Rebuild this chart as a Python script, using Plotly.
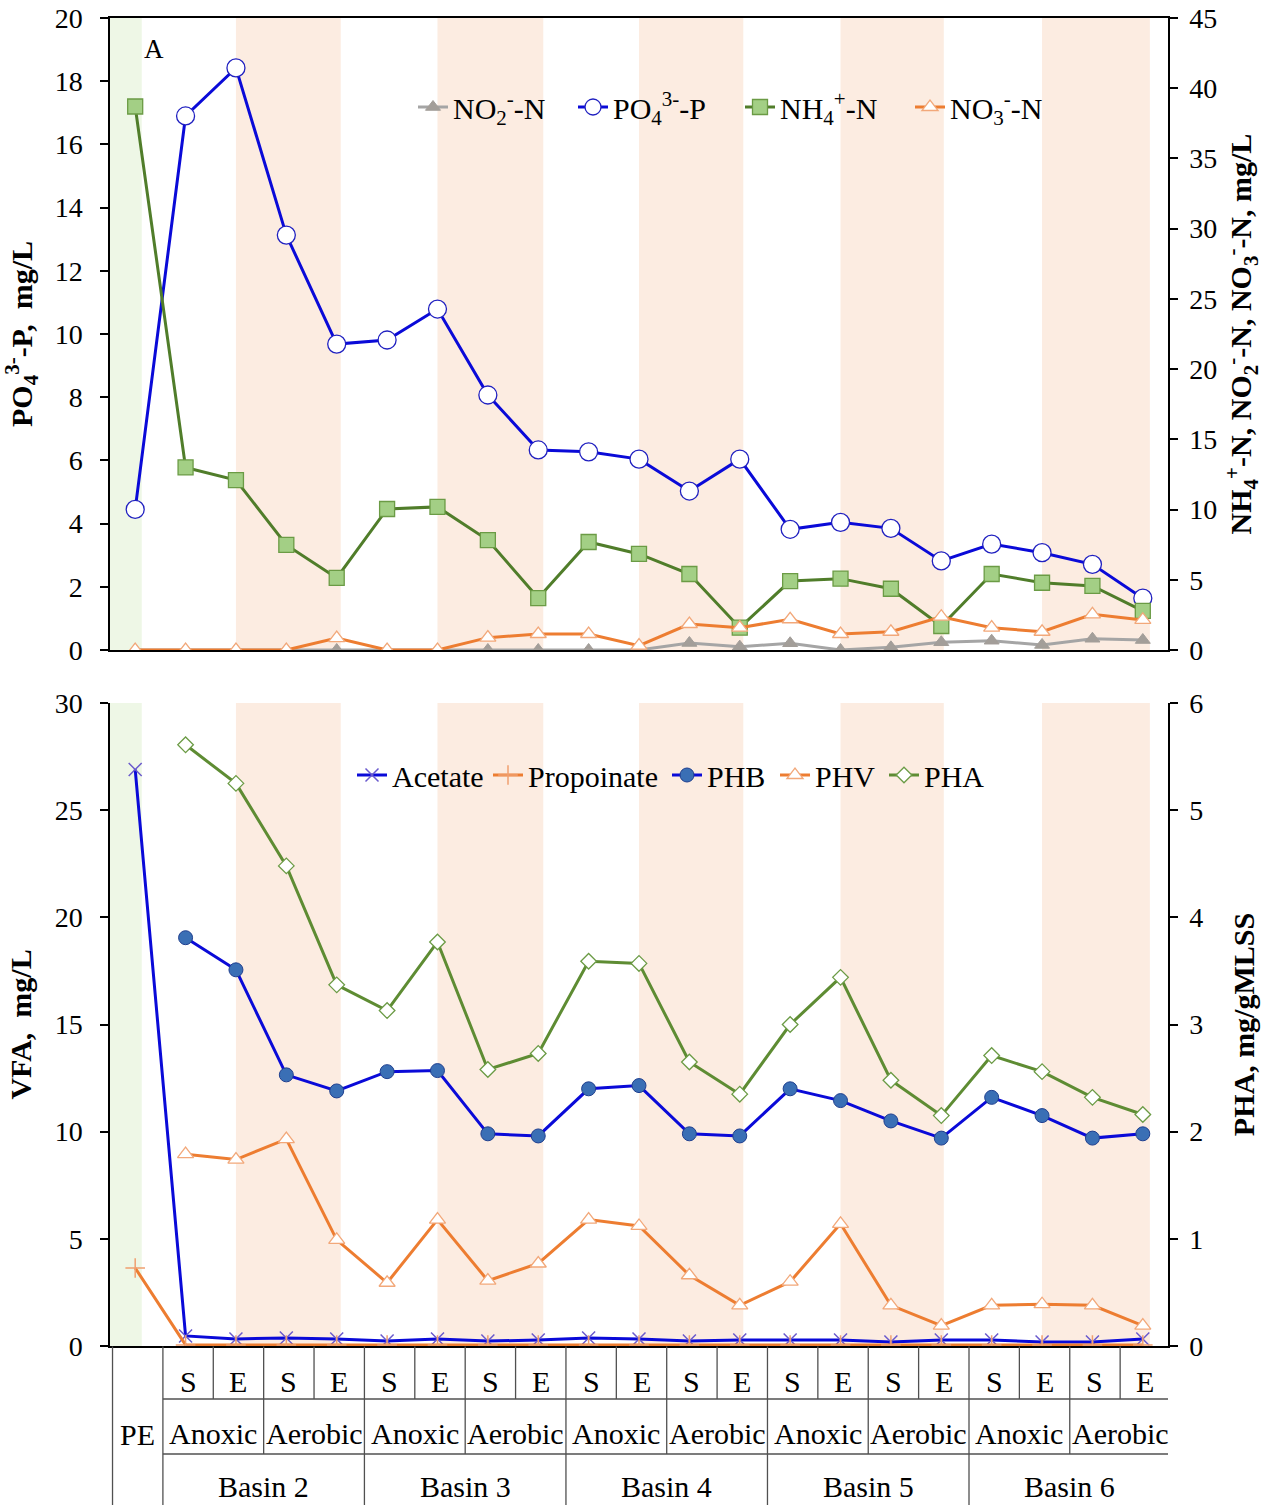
import plotly.graph_objects as go

W, H = 1276, 1505
FONT = "Liberation Serif"

# ---------------- data ----------------
x_idx = list(range(21))
steps = ["PE", "S", "E", "S", "E", "S", "E", "S", "E", "S", "E",
         "S", "E", "S", "E", "S", "E", "S", "E", "S", "E"]
zones = ["Anoxic", "Aerobic"] * 5
basins = ["Basin 2", "Basin 3", "Basin 4", "Basin 5", "Basin 6"]

# top panel
po4 = [4.45, 16.9, 18.42, 13.13, 9.68, 9.81, 10.79, 8.07, 6.33, 6.27, 6.04,
       5.03, 6.04, 3.82, 4.04, 3.85, 2.82, 3.35, 3.08, 2.71, 1.64]
nh4 = [38.7, 13.0, 12.1, 7.48, 5.13, 10.04, 10.19, 7.83, 3.70, 7.69, 6.84,
       5.41, 1.59, 4.91, 5.08, 4.36, 1.71, 5.41, 4.79, 4.56, 2.78]
no3 = [0, 0, 0, 0, 0.85, 0, 0, 0.88, 1.14, 1.14, 0.31,
       1.85, 1.59, 2.19, 1.14, 1.30, 2.37, 1.59, 1.30, 2.54, 2.14]
no2 = [0, 0, 0, 0, 0, 0, 0, 0, 0, 0, 0,
       0.50, 0.24, 0.48, 0, 0.19, 0.55, 0.66, 0.36, 0.80, 0.71]

# bottom panel
acetate = [26.9, 0.47, 0.33, 0.37, 0.33, 0.23, 0.33, 0.23, 0.28, 0.37, 0.33,
           0.23, 0.28, 0.28, 0.28, 0.19, 0.28, 0.28, 0.19, 0.19, 0.33]
propionate = [3.64, 0.05, 0.05, 0.05, 0.05, 0.05, 0.05, 0.05, 0.05, 0.05, 0.05,
              0.05, 0.05, 0.05, 0.05, 0.05, 0.05, 0.05, 0.05, 0.05, 0.05]
phb = [None, 3.81, 3.51, 2.53, 2.38, 2.56, 2.57, 1.98, 1.96, 2.40, 2.43,
       1.98, 1.96, 2.40, 2.29, 2.10, 1.94, 2.32, 2.15, 1.94, 1.98]
phv = [None, 1.79, 1.74, 1.93, 0.99, 0.59, 1.18, 0.61, 0.77, 1.18, 1.12,
       0.66, 0.38, 0.60, 1.14, 0.38, 0.19, 0.38, 0.39, 0.38, 0.19]
pha = [None, 5.61, 5.25, 4.48, 3.37, 3.13, 3.77, 2.58, 2.73, 3.59, 3.57,
       2.65, 2.35, 3.00, 3.44, 2.48, 2.15, 2.71, 2.56, 2.32, 2.16]

# aerobic band start/end (category index units)
band_start = [2, 6, 10, 14, 18]
band_end = [4.08, 8.1, 12.07, 16.05, 20.14]

BLUE = "#0a0ad8"
GREEN = "#507d2a"
ORANGE = "#ed7d31"
GRAY = "#a5a5a5"

fig = go.Figure()

# ---- top traces ----
fig.add_trace(go.Scatter(x=x_idx, y=no2, name="NO<sub>2</sub><sup>-</sup>-N", mode="lines+markers",
                         line=dict(color=GRAY, width=3),
                         marker=dict(symbol="triangle-up", size=13, color="#a39e99",
                                     line=dict(color="#a39e99", width=1)),
                         xaxis="x", yaxis="y2", legend="legend", legendwidth=115))
fig.add_trace(go.Scatter(x=x_idx, y=po4, name="PO<sub>4</sub><sup>3-</sup>-P", mode="lines+markers",
                         line=dict(color=BLUE, width=3),
                         marker=dict(symbol="circle", size=18, color="white",
                                     line=dict(color="#2020c0", width=1.3)),
                         xaxis="x", yaxis="y", legend="legend", legendwidth=122))
fig.add_trace(go.Scatter(x=x_idx, y=nh4, name="NH<sub>4</sub><sup>+</sup>-N", mode="lines+markers",
                         line=dict(color=GREEN, width=3),
                         marker=dict(symbol="square", size=15, color="#a3cf85",
                                     line=dict(color="#6b9b45", width=1.3)),
                         xaxis="x", yaxis="y2", legend="legend", legendwidth=125))
fig.add_trace(go.Scatter(x=x_idx, y=no3, name="NO<sub>3</sub><sup>-</sup>-N", mode="lines+markers",
                         line=dict(color=ORANGE, width=3),
                         marker=dict(symbol="triangle-up", size=14, color="white",
                                     line=dict(color="#f2a87a", width=1.3)),
                         xaxis="x", yaxis="y2", legend="legend"))

# ---- bottom traces ----
fig.add_trace(go.Scatter(x=x_idx, y=acetate, name="Acetate", mode="lines+markers",
                         line=dict(color=BLUE, width=3),
                         marker=dict(symbol="x-thin", size=13, color="#6a5acd",
                                     line=dict(color="#6a5acd", width=1.5)),
                         xaxis="x2", yaxis="y3", legend="legend2", legendwidth=91))
fig.add_trace(go.Scatter(x=x_idx, y=propionate, name="Propoinate", mode="lines+markers",
                         line=dict(color=ORANGE, width=3),
                         marker=dict(symbol="cross-thin", size=14, color="#f0a070",
                                     line=dict(color="#f0a070", width=1.5)),
                         xaxis="x2", yaxis="y3", legend="legend2", legendwidth=134))
fig.add_trace(go.Scatter(x=x_idx, y=phb, name="PHB", mode="lines+markers",
                         line=dict(color=BLUE, width=3),
                         marker=dict(symbol="circle", size=14, color="#3a6fb5",
                                     line=dict(color="#1f3f8f", width=1)),
                         xaxis="x2", yaxis="y4", legend="legend2", legendwidth=63))
fig.add_trace(go.Scatter(x=x_idx, y=phv, name="PHV", mode="lines+markers",
                         line=dict(color=ORANGE, width=3),
                         marker=dict(symbol="triangle-up", size=14, color="white",
                                     line=dict(color="#f2a87a", width=1.3)),
                         xaxis="x2", yaxis="y4", legend="legend2", legendwidth=64))
fig.add_trace(go.Scatter(x=x_idx, y=pha, name="PHA", mode="lines+markers",
                         line=dict(color="#5e8c33", width=3),
                         marker=dict(symbol="diamond", size=12, color="white",
                                     line=dict(color="#6b9b45", width=1.3)),
                         xaxis="x2", yaxis="y4", legend="legend2"))

shapes = []
# background bands
for xr, yr in (("x", "y domain"), ("x2", "y3 domain")):
    shapes.append(dict(type="rect", xref=xr, yref=yr, x0=-0.5, x1=0.13, y0=0, y1=1,
                       fillcolor="#eef7e6", line=dict(width=0), layer="below"))
    for s, e in zip(band_start, band_end):
        shapes.append(dict(type="rect", xref=xr, yref=yr, x0=s, x1=e, y0=0, y1=1,
                           fillcolor="#fcece1", line=dict(width=0), layer="below"))

# table
def py(p):
    return 1 - p / H

t_top, r1, r2, t_bot = 1346.5, 1399, 1454, 1508
off = 0.55
LC = dict(color="#505050", width=1.3)
for xv in [-0.45, off] + [4 * k + off for k in range(1, 6)]:
    shapes.append(dict(type="line", xref="x2", yref="paper", x0=xv, x1=xv,
                       y0=py(t_top), y1=py(t_bot), line=LC))
for k in range(5):
    xv = 4 * k + 2 + off
    shapes.append(dict(type="line", xref="x2", yref="paper", x0=xv, x1=xv,
                       y0=py(t_top), y1=py(r2), line=LC))
for k in range(10):
    xv = 2 * k + 1 + off
    shapes.append(dict(type="line", xref="x2", yref="paper", x0=xv, x1=xv,
                       y0=py(t_top), y1=py(r1), line=LC))
for yv in (r1, r2):
    shapes.append(dict(type="line", xref="x2", yref="paper", x0=off, x1=20 + off,
                       y0=py(yv), y1=py(yv), line=LC))

annotations = []
TF = dict(family=FONT, size=30, color="black")
for i in range(1, 21):
    annotations.append(dict(x=i + 0.05, y=py(1381), xref="x2", yref="paper", text=steps[i],
                            showarrow=False, font=TF, xanchor="center", yanchor="middle"))
annotations.append(dict(x=0.04, y=py(1434), xref="x2", yref="paper", text=steps[0],
                        showarrow=False, font=TF, xanchor="center", yanchor="middle"))
for k, z in enumerate(zones):
    annotations.append(dict(x=2 * k + 1.5 + 0.05, y=py(1433), xref="x2", yref="paper", text=z,
                            showarrow=False, font=TF, xanchor="center", yanchor="middle"))
for k, b in enumerate(basins):
    annotations.append(dict(x=4 * k + 2.5 + 0.05, y=py(1486), xref="x2", yref="paper", text=b,
                            showarrow=False, font=TF, xanchor="center", yanchor="middle"))
annotations.append(dict(x=154 / W, y=py(49), xref="paper", yref="paper", text="A",
                        showarrow=False, font=dict(family=FONT, size=27, color="black"),
                        xanchor="center", yanchor="middle"))

xd = [110 / W, 1168 / W]
tick_font = dict(family=FONT, size=28, color="black")
title_font = dict(family=FONT, size=30, color="black", weight="bold")
ax_common = dict(showgrid=False, zeroline=False, showline=True, linecolor="black", linewidth=1.5,
                 ticks="outside", ticklen=8, tickwidth=1.5, tickcolor="black", tickfont=tick_font)

fig.update_layout(
    width=W, height=H, margin=dict(l=0, r=0, t=0, b=0, autoexpand=False),
    paper_bgcolor="white", plot_bgcolor="white",
    font=dict(family=FONT, color="black"),
    xaxis=dict(domain=xd, range=[-0.5, 20.5], anchor="y", showgrid=False, zeroline=False,
               showline=True, linecolor="black", linewidth=1.5, mirror=True,
               showticklabels=False, ticks=""),
    yaxis=dict(domain=[py(650), py(18)], range=[0, 20], dtick=2, anchor="x", side="left",
               ticklabelstandoff=12,
               title=dict(text="PO<sub>4</sub><sup>3-</sup>-P,  mg/L", font=title_font, standoff=14),
               **ax_common),
    yaxis2=dict(range=[0, 45], dtick=5, overlaying="y", anchor="x", side="right",
                ticklabelstandoff=6,
                title=dict(text="NH<sub>4</sub><sup>+</sup>-N, NO<sub>2</sub><sup>-</sup>-N, NO<sub>3</sub><sup>-</sup>-N, mg/L",
                           font=title_font, standoff=14),
                **ax_common),
    xaxis2=dict(domain=xd, range=[-0.5, 20.5], anchor="y3", showgrid=False, zeroline=False,
                showline=True, linecolor="black", linewidth=1.5,
                showticklabels=False, ticks=""),
    yaxis3=dict(domain=[py(1346), py(703)], range=[0, 30], dtick=5, anchor="x2", side="left",
                ticklabelstandoff=12,
                title=dict(text="VFA,  mg/L", font=title_font, standoff=14),
                **ax_common),
    yaxis4=dict(range=[0, 6], dtick=1, overlaying="y3", anchor="x2", side="right",
                ticklabelstandoff=6,
                title=dict(text="PHA, mg/gMLSS", font=title_font, standoff=31),
                **ax_common),
    legend=dict(orientation="h", x=413 / W, y=py(107), xanchor="left", yanchor="middle",
                bgcolor="rgba(0,0,0,0)", font=dict(family=FONT, size=30, color="black"),
                traceorder="normal"),
    legend2=dict(orientation="h", x=352 / W, y=py(775), xanchor="left", yanchor="middle",
                 bgcolor="rgba(0,0,0,0)", font=dict(family=FONT, size=30, color="black"),
                 traceorder="normal"),
    shapes=shapes, annotations=annotations,
)

fig.write_html("out.html")
